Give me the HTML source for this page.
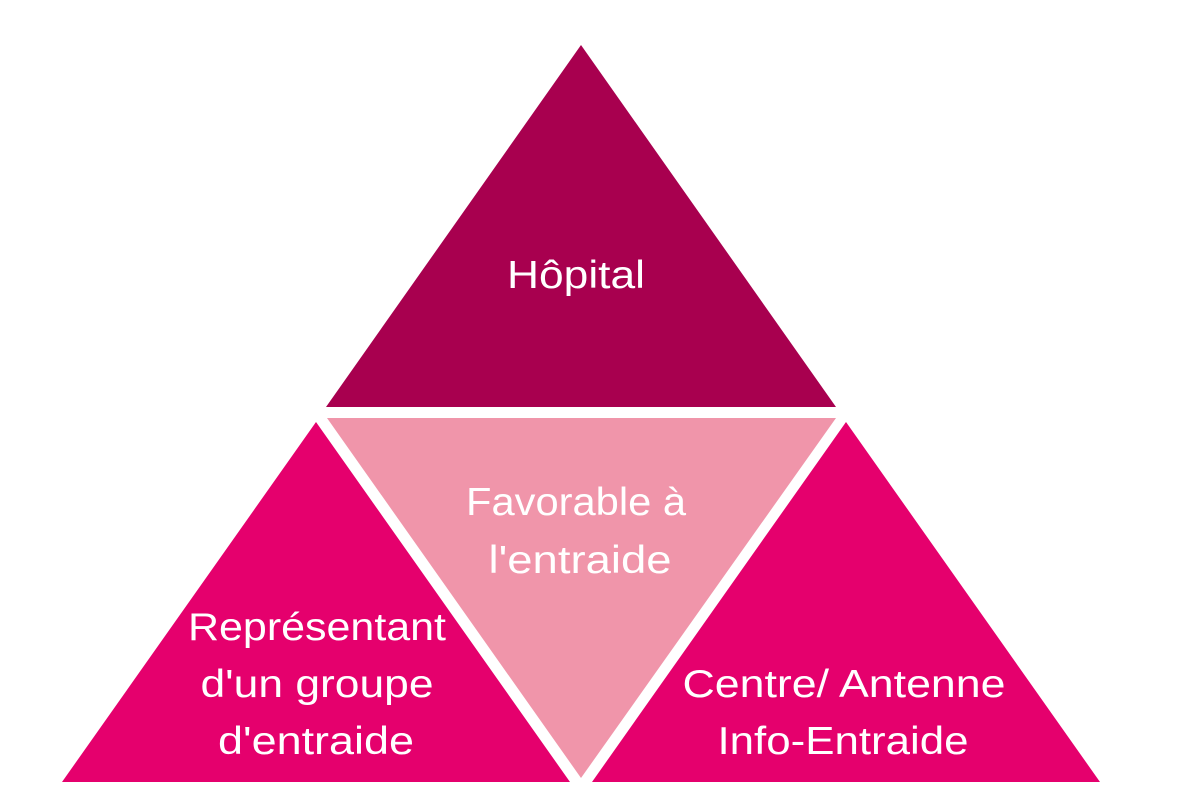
<!DOCTYPE html>
<html><head><meta charset="utf-8"><style>
html,body{margin:0;padding:0;background:#fff;}
svg{display:block}
text{font-family:"Liberation Sans",sans-serif;fill:#fff;font-size:39px;text-anchor:middle}
</style></head><body>
<svg width="1200" height="808" viewBox="0 0 1200 808">
<polygon points="581,45 326,407 836,407" fill="#A8004F"/>
<polygon points="327,418 836,418 581,778" fill="#F095AA"/>
<polygon points="316,422 62,782 570,782" fill="#E5006D"/>
<polygon points="846,422 592,782 1100,782" fill="#E5006D"/>
<text x="576" y="288" textLength="138" lengthAdjust="spacingAndGlyphs">Hôpital</text>
<text x="576" y="515" textLength="220" lengthAdjust="spacingAndGlyphs">Favorable à</text>
<text x="580" y="573" textLength="183" lengthAdjust="spacingAndGlyphs">l'entraide</text>
<text x="317" y="640" textLength="258" lengthAdjust="spacingAndGlyphs">Représentant</text>
<text x="317" y="697" textLength="233" lengthAdjust="spacingAndGlyphs">d'un groupe</text>
<text x="316" y="754" textLength="196" lengthAdjust="spacingAndGlyphs">d'entraide</text>
<text x="844" y="697" textLength="323" lengthAdjust="spacingAndGlyphs">Centre/ Antenne</text>
<text x="843" y="754" textLength="251" lengthAdjust="spacingAndGlyphs">Info-Entraide</text>
</svg>
</body></html>
